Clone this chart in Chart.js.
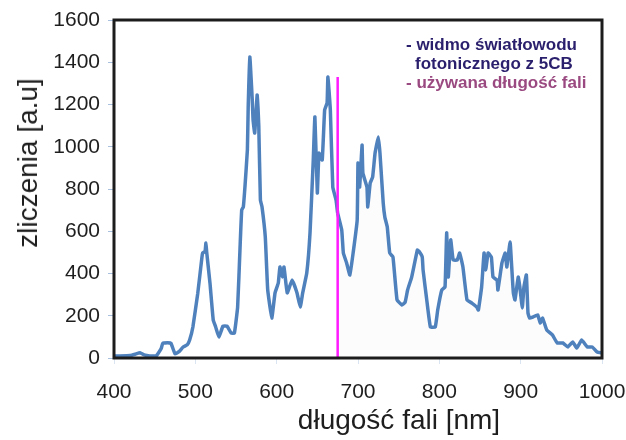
<!DOCTYPE html>
<html>
<head>
<meta charset="utf-8">
<script src="https://cdn.jsdelivr.net/npm/chart.js@4.4.1/dist/chart.umd.min.js"></script>
<style>
  html, body { margin: 0; padding: 0; background: #ffffff; }
  #wrap { position: relative; width: 626px; height: 440px; font-family: "Liberation Sans", Arial, sans-serif; }
  #c { position: absolute; left: 0; top: 0; }
  .t { position: absolute; white-space: nowrap; color: #1e1e1e; }
  #ytitle { left: 28px; top: 163px; font-size: 28px; line-height: 1; transform: translate(-50%, -50%) rotate(-90deg); }
  #xtitle { left: 399px; top: 406px; font-size: 28px; line-height: 1; transform: translateX(-50%); }
  .leg { position: absolute; left: 406px; font-size: 17px; line-height: 19px; font-weight: bold; white-space: nowrap; }
</style>
</head>
<body>
<div id="wrap">
  <canvas id="c" width="626" height="440"></canvas>
  <div class="t" id="ytitle">zliczenia [a.u]</div>
  <div class="t" id="xtitle">długość fali [nm]</div>
  <div class="leg" style="top:35px;color:#2a1f6c;">- widmo światłowodu</div>
  <div class="leg" style="top:54px;color:#2a1f6c;padding-left:9px;">fotonicznego z 5CB</div>
  <div class="leg" style="top:73px;color:#9a4a80;">- używana długość fali</div>
</div>
<script>
// ---- data ----
const wavelengths = [
  400, 407, 420, 426, 432, 437, 444, 452, 454, 458, 460, 466, 470, 475, 480, 485, 490, 493, 497, 503,
  508, 509, 512, 513, 514, 518, 522, 525, 529, 534, 539, 544, 548, 552, 555, 557, 559, 561, 564, 565,
  567, 570, 571, 573, 576, 577, 578, 580, 582, 586, 589, 594, 598, 602, 604, 607, 609, 613, 619, 625,
  629, 632, 637, 641, 645, 647, 650, 652, 656, 659, 662, 663, 666, 669, 673, 675, 680, 682, 686, 690,
  694, 699, 700, 702, 705, 706, 711, 712, 715, 718, 721, 725, 727, 731, 733, 736, 739, 743, 748, 754,
  758, 761, 766, 773, 775, 779, 780, 785, 789, 795, 798, 803, 807, 809, 811, 814, 817, 822, 825, 829,
  834, 840, 846, 848, 852, 855, 857, 860, 864, 866, 871, 872, 877, 881, 883, 887, 889, 891, 893, 897,
  899, 902, 904, 907, 909, 911, 915, 921, 924, 927, 932, 939, 945, 952, 958, 964, 969, 975, 982, 988,
  994, 1000
];
const counts = [
  10, 10, 12, 18, 25, 15, 10, 10, 20, 45, 70, 72, 70, 20, 30, 52, 62, 85, 147, 307,
  473, 497, 505, 544, 500, 355, 180, 147, 99, 151, 151, 118, 118, 241, 525, 700, 715, 810, 985, 1188,
  1425, 1221, 1127, 1065, 1245, 1188, 1100, 748, 715, 573, 322, 189, 308, 355, 431, 383, 431, 308, 369, 308,
  241, 308, 402, 592, 937, 1141, 781, 970, 937, 1174, 1207, 1330, 1174, 809, 748, 686, 606, 497, 450, 393,
  497, 653, 923, 809, 1008, 876, 809, 715, 828, 857, 970, 1046, 970, 734, 667, 620, 497, 478, 275, 251,
  265, 322, 383, 511, 505, 478, 417, 260, 147, 147, 227, 322, 336, 592, 383, 559, 464, 464, 497, 431,
  275, 260, 241, 227, 336, 497, 417, 497, 478, 383, 369, 322, 450, 497, 431, 549, 431, 308, 275, 383,
  336, 237, 336, 393, 213, 189, 194, 204, 166, 189, 133, 109, 71, 71, 52, 76, 47, 85, 52, 52,
  28, 24
];
const xTickValues = [400, 500, 600, 700, 800, 900, 1000];
const yTickValues = [0, 200, 400, 600, 800, 1000, 1200, 1400, 1600];
const laserWavelength = 675;
const laserLineTop = 1330;

// ---- build chart ----
const spectrum = wavelengths.map((w, i) => ({ x: w, y: counts[i] }));
const laserLine = [{ x: laserWavelength, y: 0 }, { x: laserWavelength, y: laserLineTop }];

const framePlugin = {
  id: 'frame',
  afterDatasetsDraw(chart) {
    const { ctx, chartArea: a } = chart;
    ctx.save();
    ctx.strokeStyle = '#1c1c1c';
    ctx.lineWidth = 3;
    ctx.strokeRect(a.left, a.top, a.right - a.left, a.bottom - a.top);
    ctx.restore();
  }
};

const tickFont = { family: "'Liberation Sans', Arial, sans-serif", size: 21 };

new Chart(document.getElementById('c'), {
  type: 'line',
  data: {
    datasets: [
      {
        label: 'używana długość fali',
        data: laserLine,
        borderColor: '#ff1aff',
        borderWidth: 2.5,
        pointRadius: 0,
        fill: false
      },
      {
        label: 'widmo światłowodu fotonicznego z 5CB',
        data: spectrum,
        borderColor: '#4f81bd',
        borderWidth: 3.5,
        pointRadius: 0,
        tension: 0.1,
        borderJoinStyle: 'round',
        fill: 'origin',
        backgroundColor: 'rgba(0,0,0,0)',
        segment: {
          backgroundColor: ctx => ctx.p0.parsed.x >= laserWavelength ? 'rgba(0,0,0,0.012)' : 'rgba(0,0,0,0)'
        }
      }
    ]
  },
  options: {
    responsive: false,
    animation: false,
    events: [],
    layout: { padding: { left: 0, right: 24, top: 20, bottom: 0 } },
    plugins: { legend: { display: false }, tooltip: { enabled: false } },
    scales: {
      x: {
        type: 'linear',
        min: 400,
        max: 1000,
        afterBuildTicks: s => { s.ticks = xTickValues.map(v => ({ value: v })); },
        afterFit: s => { s.height = 82; s.paddingLeft = 0; s.paddingRight = 0; },
        ticks: {
          color: '#1e1e1e',
          font: tickFont,
          padding: 16,
          maxRotation: 0,
          callback: v => String(v)
        },
        grid: { display: true, drawOnChartArea: false, tickLength: 6, color: '#dbe5f2' },
        border: { display: false }
      },
      y: {
        min: 0,
        max: 1600,
        afterBuildTicks: s => { s.ticks = yTickValues.map(v => ({ value: v })); },
        afterFit: s => { s.width = 114; s.paddingTop = 0; s.paddingBottom = 0; },
        ticks: {
          color: '#1e1e1e',
          font: tickFont,
          padding: 8,
          callback: v => String(v)
        },
        grid: { display: true, drawOnChartArea: false, tickLength: 6, color: '#a9c0df' },
        border: { display: false }
      }
    }
  },
  plugins: [framePlugin]
});
</script>
</body>
</html>
